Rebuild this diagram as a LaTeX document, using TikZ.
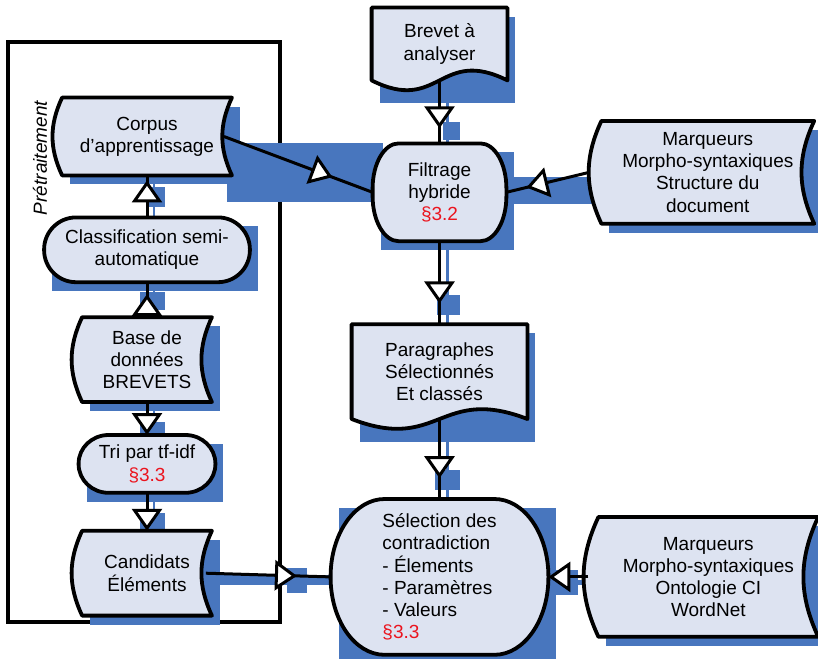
\documentclass[tikz,border=0pt]{standalone}
\usepackage{fontspec}
\setmainfont{Liberation Sans}
\usetikzlibrary{positioning}
\usetikzlibrary{calc}
\usetikzlibrary{arrows.meta}
\usetikzlibrary{decorations.markings}

\definecolor{boxfill}{RGB}{221,227,241}
\definecolor{shadowblue}{RGB}{72,118,190}
\definecolor{sectred}{RGB}{235,20,30}

\pgfdeclarelayer{back}
\pgfdeclarelayer{shade}
\pgfdeclarelayer{shapes}
\pgfsetlayers{back,shade,shapes,main}

\newcommand{\storeshape}[1]{%
  \begin{pgfonlayer}{shapes}
    \fill[shadowblue] ([shift={(4pt,-4.5pt)}]#1.south west) rectangle ([shift={(4pt,-4.5pt)}]#1.north east);
    \draw[shape_line] (#1.north west) -- (#1.north east) to[out=245,in=115] (#1.south east)
      -- (#1.south west) to[out=115,in=245] cycle;
  \end{pgfonlayer}}

\newcommand{\docshape}[1]{%
  \begin{pgfonlayer}{shapes}
    \fill[shadowblue] ([shift={(4pt,-4.5pt)}]#1.north west) rectangle ([shift={(4pt,-11.5pt)}]#1.south east);
    \draw[shape_line] (#1.south west) -- (#1.north west) -- (#1.north east) -- (#1.south east)
      .. controls ($(#1.south)+(0,17pt)$) and ($(#1.south)+(0,-17pt)$) .. (#1.south west) -- cycle;
  \end{pgfonlayer}}

\newcommand{\termshape}[3]{%
  \begin{pgfonlayer}{shapes}
    \fill[shadowblue] ([shift={(4pt,-4.5pt)}]#1.south west) rectangle ([shift={(4pt,-4.5pt)}]#1.north east);
    \draw[shape_line] ([xshift=#2]#1.north west) -- ([xshift=-#2]#1.north east)
      arc[start angle=90, end angle=0, x radius=#2, y radius=#3]
      -- ([yshift=#3]#1.south east)
      arc[start angle=0, end angle=-90, x radius=#2, y radius=#3]
      -- ([xshift=#2]#1.south west)
      arc[start angle=270, end angle=180, x radius=#2, y radius=#3]
      -- ([yshift=-#3]#1.north west)
      arc[start angle=180, end angle=90, x radius=#2, y radius=#3] -- cycle;
  \end{pgfonlayer}}

\begin{document}
\begin{tikzpicture}[x=0.5pt, y=-0.5pt, font=\fontsize{9.5}{11.1}\selectfont]
        \tikzstyle{box_text} = [align=center, inner sep=0pt]
        \tikzstyle{shape_line} = [draw=black, line width=1.9pt, fill=boxfill, line join=round]
        \tikzstyle{frame_line} = [draw=black, line width=1.9pt]
        \tikzstyle{shadow_line} = [draw=shadowblue, line width=1.3pt]
        \tikzstyle{arrow_style1} = [black, line width=1.5pt, -{Triangle[width=15pt, length=11pt, fill=white]}]
        \tikzset{arrow_mid/.style={black, line width=1.5pt, postaction={decorate,
            decoration={markings, mark=at position #1 with {\arrow{Triangle[width=15pt, length=11pt, fill=white]}}}}}}

        \useasboundingbox (0,0) rectangle (818,658);

        % left column
        \node[box_text, minimum width=84.5pt, minimum height=38.5pt] (corpus) at (147,136.5) {Corpus\\d’apprentissage};
        \node[box_text, minimum width=102.5pt, minimum height=32pt] (classif) [below=21pt of corpus] {Classification semi-\\automatique};
        \node[box_text, minimum width=64.5pt, minimum height=42pt] (base) [below=17.5pt of classif] {Base de\\données\\BREVETS};
        \node[box_text, minimum width=68pt, minimum height=28.5pt] (tri) [below=16.5pt of base] {Tri par tf-idf\\{\color{sectred}§3.3}};
        \node[box_text, minimum width=64.5pt, minimum height=42pt] (cand) [below=19pt of tri] {Candidats\\Éléments};
        \node[rotate=90, font=\fontsize{9.5}{11.1}\selectfont\itshape] (pretrait) at (40,158) {Prétraitement};

        % right column
        \node[box_text, minimum width=67.5pt, minimum height=36pt] (brevet) at (439.5,44) {Brevet à\\analyser};
        \node[box_text, minimum width=66.5pt, minimum height=48.5pt] (filtrage) [below=31.5pt of brevet] {Filtrage\\hybride\\{\color{sectred}§3.2}};
        \node[box_text, minimum width=87.5pt, minimum height=47pt] (para) [below=41.5pt of filtrage] {Paragraphes\\Sélectionnés\\Et classés};
        \node[box_text, align=left, minimum width=108.5pt, minimum height=77.5pt] (select) [below=40pt of para] {Sélection des\\contradiction\\- Élements\\- Paramètres\\- Valeurs\\{\color{sectred}§3.3}};
        \node[box_text, minimum width=106pt, minimum height=51pt] (marq1) [right=47.5pt of filtrage, yshift=10pt] {Marqueurs\\Morpho-syntaxiques\\Structure du\\document};
        \node[box_text, minimum width=109.5pt, minimum height=59.5pt] (marq2) [right=25pt of select] {Marqueurs\\Morpho-syntaxiques\\Ontologie CI\\WordNet};

        \storeshape{corpus}
        \termshape{classif}{16pt}{16pt}
        \storeshape{base}
        \termshape{tri}{15pt}{14.25pt}
        \storeshape{cand}
        \docshape{brevet}
        \termshape{filtrage}{13pt}{22.5pt}
        \docshape{para}
        \termshape{select}{27pt}{38.75pt}
        \storeshape{marq1}
        \storeshape{marq2}

        \begin{pgfonlayer}{back}
            \draw[frame_line] (8,42) rectangle (280,622);
        \end{pgfonlayer}

        \begin{pgfonlayer}{shade}
            \fill[shadowblue] (227,143) rectangle (383,202);
            \fill[shadowblue] (510,177) rectangle (598,204);
            \fill[shadowblue] (205,575) rectangle (340,585);
            \fill[shadowblue] (287,568) rectangle (307,593);
            \fill[shadowblue] (550,570) rectangle (578,595);
            \fill[shadowblue] (578,580) rectangle (595,585);
            \fill[shadowblue] (443,122) rectangle (460,140);
            \fill[shadowblue] (437,295) rectangle (460,315);
            \fill[shadowblue] (435,470) rectangle (460,490);
            \fill[shadowblue] (140,292) rectangle (165,310);
            \fill[shadowblue] (147,187) rectangle (165,207);
            \fill[shadowblue] (140,422) rectangle (165,440);
            \fill[shadowblue] (140,513) rectangle (165,533);
            \draw[shadow_line] ([shift={(4pt,-4pt)}]brevet.south) -- ([shift={(4pt,-4pt)}]filtrage.north);
            \draw[shadow_line] ([shift={(4pt,-4pt)}]filtrage.south) -- ([shift={(4pt,-4pt)}]para.north);
            \draw[shadow_line] ([shift={(4pt,-6pt)}]para.south) -- ([shift={(4pt,-4pt)}]select.north);
            \draw[shadow_line] ([shift={(3.5pt,-4pt)}]classif.north) -- ([shift={(3.5pt,-4pt)}]corpus.south);
            \draw[shadow_line] ([shift={(3.5pt,-4pt)}]base.north) -- ([shift={(3.5pt,-4pt)}]classif.south);
            \draw[shadow_line] ([shift={(3.5pt,-4pt)}]base.south) -- ([shift={(3.5pt,-4pt)}]tri.north);
            \draw[shadow_line] ([shift={(3.5pt,-4pt)}]tri.south) -- ([shift={(3.5pt,-4pt)}]cand.north);
        \end{pgfonlayer}

        \draw[arrow_mid=0.88] (classif.north) -- (corpus.south);
        \draw[arrow_mid=0.66] (base.north) -- (classif.south);
        \draw[arrow_style1] (base.south) -- (tri.north);
        \draw[arrow_style1] (tri.south) -- (cand.north);
        \draw[arrow_mid=0.73] ([xshift=-4pt]corpus.east) -- (filtrage.west);
        \draw[arrow_mid=0.76] (brevet.south) -- (filtrage.north);
        \draw[arrow_mid=0.76] ([xshift=-6pt]marq1.west) -- (filtrage.east);
        \draw[arrow_mid=0.75] (filtrage.south) -- (para.north);
        \draw[arrow_mid=0.74] (para.south) -- (select.north);
        \draw[arrow_mid=0.73] ([xshift=-3pt]cand.east) -- (select.west);
        \draw[arrow_style1] ([xshift=-5pt]marq2.west) -- (select.east);

    \end{tikzpicture}
\end{document}
